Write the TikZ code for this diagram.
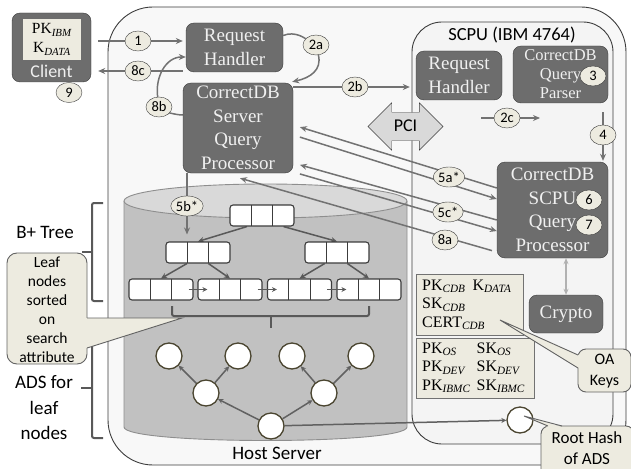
\documentclass[tikz,border=0pt]{standalone}
\usepackage{fontspec}
\setmainfont{Liberation Serif}
\setsansfont{Carlito}
\usetikzlibrary{arrows.meta,calc,shapes.geometric,shapes.arrows}

\definecolor{oscuro}{HTML}{6D6D6D}
\definecolor{borde}{HTML}{3C3C3C}
\definecolor{crema}{HTML}{EDEBE0}
\definecolor{gris}{HTML}{727272}
\definecolor{fondohost}{HTML}{F8F8F8}
\definecolor{fondoscpu}{HTML}{F4F4F4}
\definecolor{disco}{HTML}{C1C1C1}
\definecolor{tapadisco}{HTML}{D9D9D9}
\definecolor{oliva}{HTML}{4A4530}

\pgfdeclarelayer{fondo}
\pgfdeclarelayer{lineas}
\pgfsetlayers{fondo,lineas,main}

\newcommand{\subind}[1]{\textsubscript{\textit{#1}}}

\begin{document}
\begin{tikzpicture}[x=1pt, y=-1pt,
    caja/.style={draw=borde, fill=oscuro, rounded corners=8pt, text=white!94!black, align=center, inner sep=0pt, font=\fontsize{19}{23.5}\selectfont},
    paso/.style={ellipse, draw=borde, fill=crema, inner sep=0.4pt, minimum width=26pt, minimum height=20pt, font=\sffamily\fontsize{14.5}{15}\selectfont},
    linea/.style={draw=gris, line width=1.5pt},
    flecha/.style={linea, -{Stealth[length=7pt, width=6pt]}},
    nodob/.style={draw=borde, fill=white, rounded corners=3pt, line width=1.1pt, minimum width=64pt, minimum height=21pt, inner sep=0pt,
      path picture={\foreach \k in {1,2} \draw[borde, line width=1.1pt] ([xshift=\k*21.33pt]path picture bounding box.north west) -- ([xshift=\k*21.33pt]path picture bounding box.south west);}},
    rama/.style={draw=borde!85, line width=1.5pt, -{Stealth[length=6pt, width=5.5pt]}},
    puntero/.style={draw=borde!85, line width=1.4pt, -{Stealth[length=5pt, width=5pt]}},
    hoja/.style={circle, draw=oliva, fill=white, line width=1.3pt, minimum size=26pt, inner sep=0pt},
    ramaads/.style={draw=gris!85!black, line width=1.5pt, -{Stealth[length=5pt, width=5pt]}},
    clave/.style={draw=gris, fill=crema, inner xsep=6pt, inner ysep=0pt, anchor=north west, align=left, font=\fontsize{16}{18.5}\selectfont},
    globo/.style={draw=borde!80, fill=crema, line width=0.9pt},
    llave/.style={draw=borde!85, line width=2pt, rounded corners=2pt},
    rotulo/.style={font=\sffamily\fontsize{19}{25.5}\selectfont, align=center},
  ]
  \useasboundingbox (0,0) rectangle (631,468);

  % Servidor host, SCPU y disco
  \begin{pgfonlayer}{fondo}
    \draw[borde, fill=fondohost, line width=0.9pt, rounded corners=45pt] (108,7) rectangle (626,465);
    \draw[borde, fill=fondoscpu, line width=0.9pt, rounded corners=30pt] (412,22) rectangle (613,444);
    \draw[gris!80, fill=disco, line width=0.9pt] (124,201) -- (124,427) .. controls (124,445) and (407,445) .. (407,427) -- (407,201);
    \draw[gris!80, fill=tapadisco, line width=0.9pt] (265.5,201) ellipse [x radius=141.5, y radius=17];
  \end{pgfonlayer}
  \node[font=\sffamily\fontsize{19}{19}\selectfont] (host) at (277,453) {Host Server};
  \node[font=\sffamily\fontsize{18.5}{19}\selectfont] (scpu) at (512,35) {SCPU (IBM 4764)};

  % Cliente
  \node[caja, minimum width=79pt, minimum height=69pt] (cliente) at (51.5,47.5) {};
  \node[fill=crema, minimum width=58pt, minimum height=41pt, inner sep=0pt, align=center, font=\fontsize{15.5}{19}\selectfont] (llavecli) at (52,39.5) {PK\subind{IBM}\\K\subind{DATA}};
  \node[text=white!94!black, font=\sffamily\fontsize{18}{18}\selectfont] (txtcli) at (51.5,71) {Client};

  % Modulos del host y de la SCPU
  \node[caja, minimum width=97pt, minimum height=49pt] (rh) at (234.5,47.5) {Request\\Handler};
  \node[caja, minimum width=110pt, minimum height=90pt] (cdsqp) at (238,128) {CorrectDB\\Server\\Query\\Processor};
  \node[caja, minimum width=86pt, minimum height=49pt] (srh) at (459,75.5) {Request\\Handler};
  \node[caja, minimum width=95pt, minimum height=57pt, font=\fontsize{16.5}{19}\selectfont] (parser) at (560.5,74.5) {CorrectDB\\Query\\Parser};
  \node[caja, minimum width=111pt, minimum height=96pt] (sqp) at (552.5,210) {CorrectDB\\SCPU\\Query\\Processor};
  \node[caja, minimum width=74pt, minimum height=38pt] (cripto) at (566,314) {Crypto};

  % Bus PCI
  \node[double arrow, draw=borde, fill=tapadisco, double arrow head extend=9.5pt, minimum height=75pt, minimum width=47pt, inner sep=5pt, text height=14pt, text depth=4pt, font=\sffamily\fontsize{18}{18}\selectfont] (pci) at (405.5,126.5) {PCI};

  % Claves guardadas en la SCPU
  \node[clave, minimum height=61pt, text width=95pt] (claves1) at (416,274) {PK\subind{CDB}\hspace{7pt}K\subind{DATA}\\SK\subind{CDB}\\CERT\subind{CDB}};
  \node[clave, minimum height=60pt, text width=106pt] (claves2) at (416,338) {\begin{tabular}{@{}l@{\hspace{6pt}}l@{}}PK\subind{OS} & SK\subind{OS}\\ PK\subind{DEV} & SK\subind{DEV}\\ PK\subind{IBMC} & SK\subind{IBMC}\end{tabular}};

  % Arbol B+
  \node[nodob] (r0) at (262,215.5) {};
  \node[nodob] (i1) at (198,252.5) {};
  \node[nodob] (i2) at (337,252.5) {};
  \foreach \n/\x in {1/161,2/230,3/299.5,4/369}
    \node[nodob] (h\n) at (\x,289.5) {};
  \foreach \a/\b in {h1/h2,h2/h3,h3/h4}
    \draw[puntero] ([xshift=-5pt]\a.east) -- ([xshift=10pt]\b.west);

  % ADS de las hojas
  \foreach \n/\x in {1/169,2/238,3/292,4/361}
    \node[hoja] (a\n) at (\x,356) {};
  \node[hoja] (b1) at (206,393) {};
  \node[hoja] (b2) at (324,393) {};
  \node[hoja] (raiz) at (271,426) {};
  \node[hoja] (hash) at (520,420) {};

  % Pasos numerados
  \node[paso] (c1) at (138,41) {1};
  \node[paso] (c8c) at (138,71) {8c};
  \node[paso] (c9) at (69,92.5) {9};
  \node[paso] (c2a) at (316,45) {2a};
  \node[paso] (c2b) at (355,87) {2b};
  \node[paso] (c8b) at (159,107) {8b};
  \node[paso] (c2c) at (507,118) {2c};
  \node[paso] (c3) at (593,76) {3};
  \node[paso] (c4) at (603,135) {4};
  \node[paso] (c5a) at (449,177) {5a*};
  \node[paso] (c5c) at (448,212) {5c*};
  \node[paso] (c8a) at (445,240) {8a};
  \node[paso] (c5b) at (187,206) {5b*};
  \node[paso] (c6) at (589,200) {6};
  \node[paso] (c7) at (589,225) {7};

  \coordinate (ini2c) at (481,118);
  \coordinate (fin2c) at (540,118);

  \begin{pgfonlayer}{lineas}
    % Peticion y respuesta del cliente
    \draw[flecha, shorten <=7pt, shorten >=3pt] (cliente.east |- c1) -- (rh.west |- c1);
    \draw[flecha, shorten <=3pt, shorten >=7pt] (rh.west |- c8c) -- (cliente.east |- c8c);
    % 2a, 2b y 8b
    \draw[linea] ([yshift=12pt]rh.east) .. controls +(12,-5) and +(-10,-6) .. (c2a);
    \draw[flecha] (c2a) .. controls +(6,25) and +(18,-4) .. ([shift={(-1,-1)}]cdsqp.north east);
    \draw[flecha, shorten >=6pt] (cdsqp.east |- c2b) -- (srh.west |- c2b);
    \draw[linea] ([yshift=13pt]cdsqp.west) .. controls +(-8,0) and +(6,4) .. (c8b);
    \draw[flecha] (c8b) .. controls +(-4,-30) and +(-20,0) .. ([yshift=-9.5pt]rh.west);
    % Dentro de la SCPU
    \draw[flecha] (ini2c) -- (fin2c);
    \draw[flecha, shorten <=9pt, shorten >=1pt] (parser.south -| c4) -- (sqp.north -| c4);
    \draw[draw=gris!55, line width=1.2pt, {Stealth[length=6pt, width=5pt]}-{Stealth[length=6pt, width=5pt]}] (sqp.south -| cripto) -- (cripto.north);
    % 5a*, 5c* y 8a entre los dos procesadores
    \draw[flecha, shorten >=7pt] ([yshift=22pt]sqp.west) -- ([yshift=3pt]cdsqp.east);
    \draw[flecha, shorten <=7pt] ([yshift=-7pt]cdsqp.east) -- ([yshift=11pt]sqp.west);
    \draw[flecha, shorten >=7pt] ([yshift=-10pt]sqp.west) -- ([yshift=-35pt]cdsqp.east);
    \draw[flecha, shorten <=7pt] ([yshift=-44pt]cdsqp.east) -- ([yshift=-21pt]sqp.west);
    \draw[flecha, shorten <=5pt] ([yshift=-42pt]sqp.west) -- ([xshift=2pt,yshift=-5pt]cdsqp.south);
    \draw[flecha, shorten >=7pt] (cdsqp.south -| c5b) -- (i1.north -| c5b);
    % Ramas del arbol B+
    \draw[rama] ($(r0.south west)!0.27!(r0.south east)$) -- (i1.north);
    \draw[rama] ($(r0.south west)!0.83!(r0.south east)$) -- (i2.north);
    \foreach \p/\f/\h in {i1/0.33/h1,i1/0.66/h2,i2/0.31/h3,i2/0.66/h4}
      \draw[rama] ($(\p.south west)!\f!(\p.south east)$) -- (\h.north);
    % Ramas del ADS y hash raiz
    \foreach \a/\b in {raiz/b1,raiz/b2,b1/a1,b1/a2,b2/a3,b2/a4}
      \draw[ramaads] (\a) -- (\b);
    \draw[ramaads] (raiz) -- (hash);
    % Llaves
    \draw[llave] (103,203) -- (92,203) -- (92,301) -- (103,301);
    \draw[llave] (92,252) -- (82,252);
    \draw[llave] (103,338) -- (92,338) -- (92,438) -- (103,438);
    \draw[llave] (92,388) -- (81,388);
    \draw[llave] (172,306) -- (172,316) -- (369,316) -- (369,306);
    \draw[llave] (271,316) -- (271,328);
  \end{pgfonlayer}

  \node[rotulo] (bmas) at (45,232) {B+ Tree};
  \node[rotulo] (ads) at (44,408) {ADS for\\leaf\\nodes};

  % Globo de las hojas
  \filldraw[globo, rounded corners=10pt] (7,253) rectangle (87,364);
  \fill[crema] (86,318) -- (182,318) -- (86,348) -- cycle;
  \draw[globo, fill=none] (87,318) -- (182,318) -- (87,348);
  \node[font=\sffamily\fontsize{15.5}{19}\selectfont, align=center] (hojas) at (47,309.5) {Leaf\\nodes\\sorted\\on\\search\\attribute};

  % Globo de las claves OA
  \filldraw[globo, rounded corners=8pt] (578,349) rectangle (631,392);
  \fill[crema] (579,355) -- (500,320) -- (579,368) -- cycle;
  \draw[globo, fill=none] (578,355) -- (500,320) -- (578,368);
  \node[font=\sffamily\fontsize{16}{21}\selectfont, align=center] (oa) at (604.5,371.5) {OA\\Keys};

  % Globo del hash raiz
  \filldraw[globo, rounded corners=8pt] (541,426) rectangle (634,478);
  \fill[crema] (548,427) -- (524,416) -- (562,427) -- cycle;
  \draw[globo, fill=none] (548,426) -- (524,416) -- (562,426);
  \node[font=\sffamily\fontsize{17}{21}\selectfont, align=center] (rhads) at (587,448.5) {Root Hash\\of ADS};
\end{tikzpicture}
\end{document}
